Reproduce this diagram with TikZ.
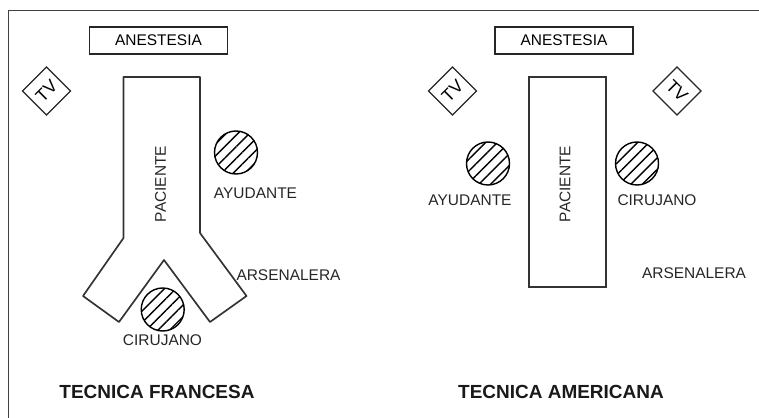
\documentclass[tikz,border=0pt]{standalone}
\usepackage{fontspec}
\setmainfont{Liberation Sans}
\usetikzlibrary{patterns.meta}
\tikzset{
    table/.style={draw=black!80, line width=0.95pt},
    anesbox/.style={draw=black!85, line width=0.9pt, minimum width=2.76cm, minimum height=0.54cm, inner sep=0pt, font=\fontsize{8.8}{10}\selectfont},
    tvbox/.style={draw=black!85, line width=0.75pt, minimum size=0.68cm, inner sep=0pt, font=\fontsize{10}{10}\selectfont},
    person/.style={circle, draw=black, line width=0.8pt, minimum size=0.86cm, inner sep=0pt, pattern={Lines[angle=45, distance=4.7pt, line width=0.8pt]}},
    role/.style={inner sep=0pt, text=black!85, font=\fontsize{8.8}{10}\selectfont},
    title/.style={inner sep=0pt, text=black!90, font=\fontsize{10.8}{12}\selectfont\bfseries}
}
\begin{document}
\begin{tikzpicture}[x=0.02cm, y=-0.02cm]
    \useasboundingbox (0,0) rectangle (759,418);
    \draw [black!75, line width=0.6pt] (8.5,418) -- (8.5,10.5) -- (759,10.5);

    % francesa
    \node [anesbox] (anesF) at (158.5,40.5) {ANESTESIA};
    \node [tvbox, rotate=45] (tvF) at (46.5,91) {TV};
    \draw [table, line join=round] (123.5,77) -- (200,77) -- (200,233) -- (246.5,296) -- (210,322) -- (164,260) -- (119,322) -- (83,296) -- (123.5,238) -- cycle;
    \node [role, rotate=90] (pacF) at (160.5,184) {PACIENTE};
    \node [person] (ayuF) at (236,152.5) {};
    \node [role] (ayuFtxt) at (255.5,193) {AYUDANTE};
    \node [person] (cirF) at (162.7,309.5) {};
    \node [role] (cirFtxt) at (162.5,340) {CIRUJANO};
    \node [role] (arsF) at (288.5,274.7) {ARSENALERA};
    \node [title] (titF) at (157,392) {TECNICA FRANCESA};

    % americana
    \node [anesbox] (anesA) at (564,40.5) {ANESTESIA};
    \node [tvbox, rotate=45] (tvA) at (452.5,91) {TV};
    \node [tvbox, rotate=-45] (tvB) at (677,91) {TV};
    \draw [table] (529,77) rectangle (606,287);
    \node [role, rotate=90] (pacA) at (565,184) {PACIENTE};
    \node [person] (ayuA) at (488,163.5) {};
    \node [role] (ayuAtxt) at (470,200) {AYUDANTE};
    \node [person] (cirA) at (637,163.5) {};
    \node [role] (cirAtxt) at (657,200) {CIRUJANO};
    \node [role] (arsA) at (694,273) {ARSENALERA};
    \node [title] (titA) at (561,392) {TECNICA AMERICANA};
\end{tikzpicture}
\end{document}
